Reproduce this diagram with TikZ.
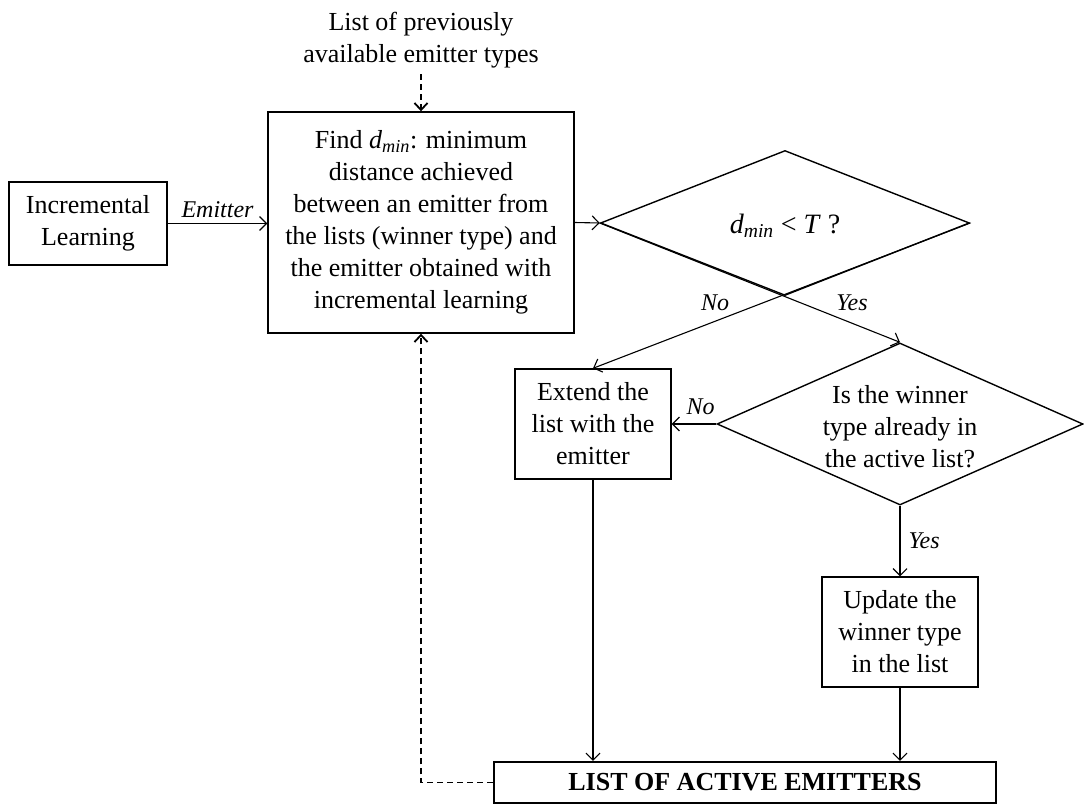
\documentclass[tikz,border=0pt]{standalone}
\usepackage{fontspec}
\setmainfont{Liberation Serif}
\usetikzlibrary{shapes.geometric,arrows.meta,calc}
\begin{document}
\begin{tikzpicture}[x=1pt,y=-1pt,
  every node/.style={font=\fontsize{26}{32}\selectfont},
  box/.style={draw, line width=1.4pt, inner sep=0pt, align=center},
  dia/.style={draw, diamond, line width=1.4pt, inner sep=0pt},
  flow/.style={line width=1.1pt, -{Straight Barb[length=7pt,width=14pt,line width=1.1pt]}},
  feed/.style={line width=1.8pt, dash pattern=on 6pt off 4pt, -{Straight Barb[length=7pt,width=13pt,line width=1.8pt]}},
  lbl/.style={font=\fontsize{24}{28}\selectfont\itshape, inner sep=2pt},
  txt/.style={align=center, inner sep=0pt}]

\useasboundingbox (0,0) rectangle (1084,805);

% process boxes
\node[box, minimum width=158, minimum height=83] (il) at (88,223.5) {Incremental\\Learning};
\node[box, minimum width=306, minimum height=221] (find) at (421,222.5)
  {Find \textit{d}\textsubscript{\textit{min}}: minimum\\distance achieved\\between an emitter from\\the lists (winner type) and\\the emitter obtained with\\incremental learning};
\node[txt] (prev) at (421,40) {List of previously\\available emitter types};
\node[box, minimum width=156, minimum height=110] (ext) at (593,424) {Extend the\\list with the\\emitter};
\node[box, minimum width=156, minimum height=110] (upd) at (900,632) {Update the\\winner type\\in the list};
\node[box, line width=2.2pt, minimum width=502, minimum height=41,
      font=\fontsize{26}{32}\selectfont\bfseries] (lst) at (745,782.5) {LIST OF ACTIVE EMITTERS};

% decisions
\node[dia, minimum width=369, minimum height=145] (d1) at (785,223) {};
\node[txt, font=\fontsize{28}{32}\selectfont] (q1) at (785,226) {\textit{d}\textsubscript{\textit{min}} < \textit{T} ?};
\node[dia, minimum width=366, minimum height=162] (d2) at (900,424) {};
\node[txt] (q2) at (900,427) {Is the winner\\type already in\\the active list?};

% connectors
\draw[flow] (il.east) -- node[lbl, above=3pt] {Emitter} (il.east -| find.west);
\draw[feed] (prev.south) ++(0,6) -- (find.north);
\draw[flow] (find.east) -- (d1.west);
\draw[flow] (d1.west) -- (d2.north);
\draw[flow] (d1.east) -- (ext.north);
\node[lbl] (no1) at (715,303) {No};
\node[lbl] (yes1) at (852,303) {Yes};
\draw[flow] (d2.west) -- node[lbl, above=7pt, pos=0.35] {No} (ext.east);
\draw[flow] (d2.south) -- node[lbl, right=6pt] {Yes} (upd.north);
\draw[flow] (ext.south) -- (ext.south |- lst.north);
\draw[flow] (upd.south) -- (upd.south |- lst.north);
\draw[feed] (lst.west) -| (find.south);
\end{tikzpicture}
\end{document}
